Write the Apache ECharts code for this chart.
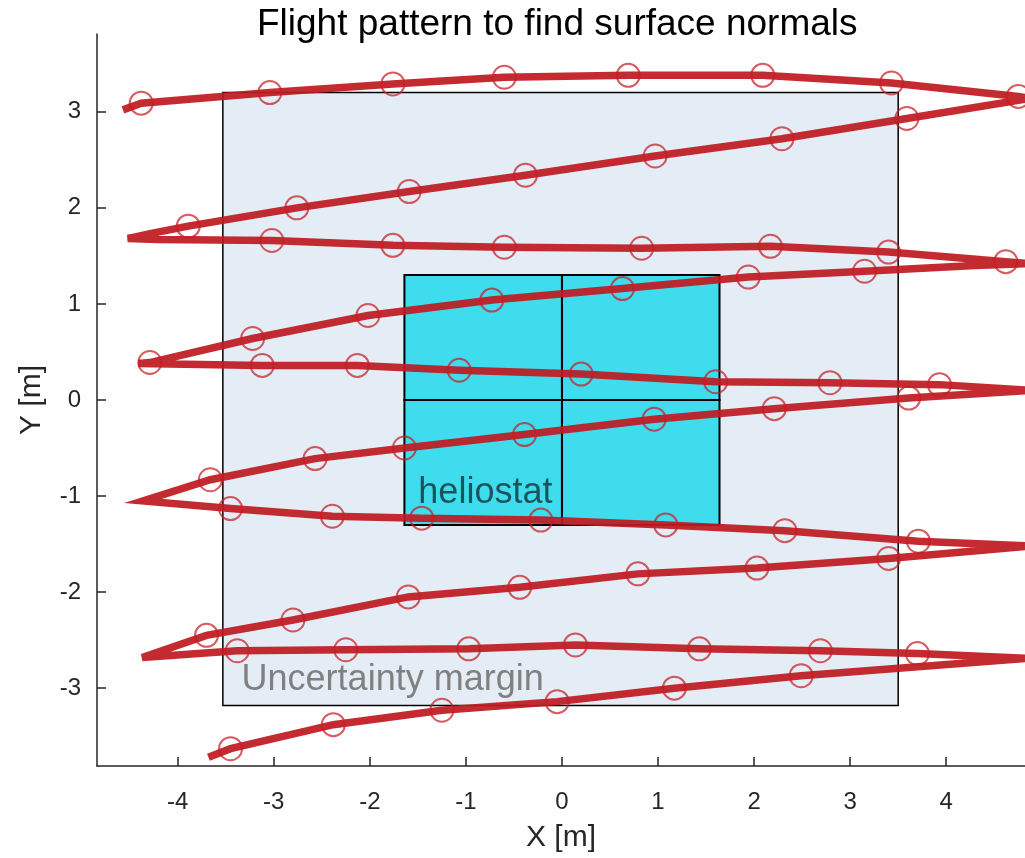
<!DOCTYPE html>
<html lang="en">
<head>
    <meta charset="UTF-8">
    <title>Flight pattern</title>
<script src="https://cdn.jsdelivr.net/npm/echarts@6/dist/echarts.min.js"></script>
<style>
  html, body { margin: 0; padding: 0; background: #fff; }
  #main { width: 1025px; height: 858px; }
</style>
</head>
<body>
<div id="main"></div>

<script>
// tick values on both axes
const xTicks = [-4, -3, -2, -1, 0, 1, 2, 3, 4];
const yTicks = [-3, -2, -1, 0, 1, 2, 3];

// uncertainty margin box [x0, y0, x1, y1]
const marginBox = [-3.53, -3.18, 3.50, 3.20];
// heliostat facets [x0, y0, x1, y1]
const facets = [
  [-1.64, 0, 0, 1.30],
  [0, 0, 1.64, 1.30],
  [-1.64, -1.30, 0, 0],
  [0, -1.30, 1.64, 0]
];

// flown trajectory (including the turn tips)
const flightPath = [
  [-4.57, 3.02],
  [-4.38, 3.09], [-3.04, 3.20], [-1.76, 3.29], [-0.60, 3.36], [0.69, 3.38], [2.09, 3.38], [3.43, 3.30], [4.75, 3.16],
  [4.88, 3.14],
  [3.59, 2.93], [2.29, 2.72], [0.97, 2.54], [-0.38, 2.34], [-1.59, 2.17], [-2.76, 2.00], [-3.89, 1.81], [-4.30, 1.73],
  [-4.52, 1.68],
  [-4.20, 1.67], [-3.02, 1.66], [-1.76, 1.61], [-0.60, 1.59], [0.83, 1.58], [2.17, 1.60], [3.40, 1.54], [4.62, 1.44],
  [4.88, 1.42],
  [4.30, 1.40], [3.15, 1.34], [1.94, 1.28], [0.63, 1.16], [-0.73, 1.04], [-2.02, 0.88], [-3.22, 0.64], [-4.29, 0.39],
  [-4.41, 0.38],
  [-3.12, 0.36], [-2.13, 0.36], [-1.07, 0.31], [0.20, 0.27], [1.60, 0.19], [2.79, 0.18], [3.93, 0.16],
  [4.88, 0.10],
  [3.61, 0.02], [2.21, -0.09], [0.96, -0.20], [-0.39, -0.36], [-1.64, -0.50], [-2.57, -0.61], [-3.66, -0.83],
  [-4.36, -1.05],
  [-3.45, -1.13], [-2.39, -1.21], [-1.46, -1.23], [-0.22, -1.25], [1.08, -1.30], [2.32, -1.36], [3.71, -1.47],
  [4.88, -1.52],
  [3.40, -1.65], [2.03, -1.75], [0.79, -1.81], [-0.44, -1.95], [-1.60, -2.05], [-2.80, -2.29], [-3.70, -2.45],
  [-4.37, -2.68],
  [-3.38, -2.61], [-2.25, -2.60], [-0.97, -2.59], [0.14, -2.55], [1.43, -2.59], [2.69, -2.61], [3.70, -2.64],
  [4.84, -2.69],
  [2.49, -2.87], [1.17, -3.00], [-0.05, -3.14], [-1.25, -3.23], [-2.38, -3.38], [-3.45, -3.63],
  [-3.68, -3.72]
];

// photo positions (circles)
const photoPoints = [
  [-4.38, 3.09], [-3.04, 3.20], [-1.76, 3.29], [-0.60, 3.36], [0.69, 3.38], [2.09, 3.38], [3.43, 3.30], [4.75, 3.16],
  [3.59, 2.93], [2.29, 2.72], [0.97, 2.54], [-0.38, 2.34], [-1.59, 2.17], [-2.76, 2.00], [-3.89, 1.81],
  [-3.02, 1.66], [-1.76, 1.61], [-0.60, 1.59], [0.83, 1.58], [2.17, 1.60], [3.40, 1.54], [4.62, 1.44],
  [3.15, 1.34], [1.94, 1.28], [0.63, 1.16], [-0.73, 1.04], [-2.02, 0.88], [-3.22, 0.64], [-4.29, 0.39],
  [-3.12, 0.36], [-2.13, 0.36], [-1.07, 0.31], [0.20, 0.27], [1.60, 0.19], [2.79, 0.18], [3.93, 0.16],
  [3.61, 0.02], [2.21, -0.09], [0.96, -0.20], [-0.39, -0.36], [-1.64, -0.50], [-2.57, -0.61], [-3.66, -0.83],
  [-3.45, -1.13], [-2.39, -1.21], [-1.46, -1.23], [-0.22, -1.25], [1.08, -1.30], [2.32, -1.36], [3.71, -1.47],
  [3.40, -1.65], [2.03, -1.75], [0.79, -1.81], [-0.44, -1.95], [-1.60, -2.05], [-2.80, -2.29], [-3.70, -2.45],
  [-3.38, -2.61], [-2.25, -2.60], [-0.97, -2.59], [0.14, -2.55], [1.43, -2.59], [2.69, -2.61], [3.70, -2.64],
  [2.49, -2.87], [1.17, -3.00], [-0.05, -3.14], [-1.25, -3.23], [-2.38, -3.38], [-3.45, -3.63]
];

const FONT = 'Liberation Sans, Arial, Helvetica, sans-serif';

const labels = [
  { name: 'heliostat', value: [-1.495, -0.973], color: 'rgba(0,0,0,0.62)' },
  { name: 'Uncertainty margin', value: [-3.335, -2.914], color: '#808080' }
];

function rectItem(fill, lw) {
  return function (params, api) {
    const p0 = api.coord([api.value(0), api.value(3)]);
    const p1 = api.coord([api.value(2), api.value(1)]);
    return {
      type: 'rect',
      shape: { x: p0[0], y: p0[1], width: p1[0] - p0[0], height: p1[1] - p0[1] },
      style: { fill: fill, stroke: '#000', lineWidth: lw }
    };
  };
}

function textItem(params, api) {
  const p = api.coord([api.value(0), api.value(1)]);
  const d = labels[params.dataIndex];
  return {
    type: 'text',
    x: p[0], y: p[1],
    style: {
      text: d.name, fill: d.color, font: '36px ' + FONT,
      textAlign: 'left', textVerticalAlign: 'middle'
    }
  };
}

const myChart = echarts.init(document.getElementById('main'));

const axisCommon = {
  type: 'value',
  splitLine: { show: false },
  axisLine: { show: true, onZero: false, lineStyle: { color: '#262626', width: 1.5 } },
  axisTick: { show: true, inside: true, length: 9, lineStyle: { color: '#262626', width: 1.5 } },
  axisLabel: { color: '#262626', fontSize: 24, fontFamily: FONT },
  nameLocation: 'middle',
  nameTextStyle: { color: '#262626', fontSize: 30, fontFamily: FONT }
};

const option = {
  animation: false,
  backgroundColor: '#fff',
  title: {
    text: 'Flight pattern to find surface normals',
    left: 252,
    top: 1,
    textStyle: { color: '#000', fontSize: 37, fontWeight: 'normal', fontFamily: FONT }
  },
  grid: { left: 97, right: 0, top: 34, bottom: 91 },
  xAxis: Object.assign({}, axisCommon, {
    min: -4.84, max: 4.82,
    name: 'X [m]', nameGap: 57,
    axisTick: Object.assign({}, axisCommon.axisTick, { customValues: xTicks }),
    axisLabel: Object.assign({}, axisCommon.axisLabel, { customValues: xTicks, margin: 24 })
  }),
  yAxis: Object.assign({}, axisCommon, {
    min: -3.81, max: 3.81,
    name: 'Y [m]', nameGap: 50, nameRotate: 90,
    axisTick: Object.assign({}, axisCommon.axisTick, { customValues: yTicks }),
    axisLabel: Object.assign({}, axisCommon.axisLabel, { customValues: yTicks, margin: 16 })
  }),
  series: [
    {
      type: 'custom', z: 1, silent: true,
      renderItem: rectItem('#e4edf5', 1.5),
      encode: { x: [0, 2], y: [1, 3] },
      data: [marginBox]
    },
    {
      type: 'custom', z: 2, silent: true,
      renderItem: rectItem('#3fdcee', 2),
      encode: { x: [0, 2], y: [1, 3] },
      data: facets
    },
    {
      type: 'custom', z: 3, silent: true,
      renderItem: textItem,
      encode: { x: 0, y: 1 },
      data: labels.map(function (d) { return d.value; })
    },
    {
      type: 'line', z: 4,
      data: flightPath,
      showSymbol: false,
      clip: true,
      lineStyle: { color: '#bf1b21', width: 7.5, opacity: 0.93, join: 'miter', miterLimit: 6 }
    },
    {
      type: 'scatter', z: 5,
      data: photoPoints,
      symbol: 'circle',
      symbolSize: 23,
      itemStyle: { color: 'rgba(0,0,0,0)', borderColor: 'rgba(200,28,34,0.9)', borderWidth: 2 }
    }
  ]
};

myChart.setOption(option);
</script>
</body>
</html>
